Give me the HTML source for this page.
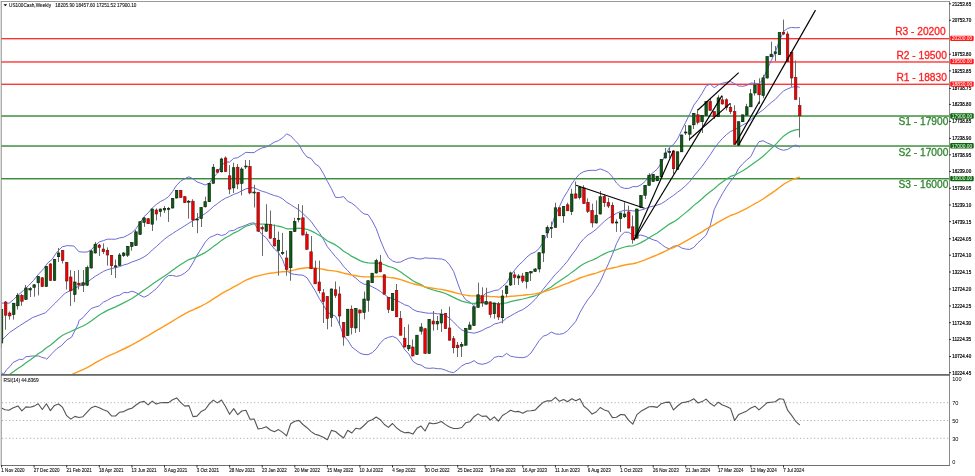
<!DOCTYPE html><html><head><meta charset="utf-8"><style>html,body{margin:0;padding:0;background:#fff;width:975px;height:476px;overflow:hidden;font-family:"Liberation Sans",sans-serif}</style></head><body><svg width="975" height="476" viewBox="0 0 975 476" style="display:block;will-change:transform">
<defs><clipPath id="main"><rect x="1.5" y="1.5" width="947.5" height="372.5"/></clipPath><clipPath id="sub"><rect x="1.5" y="375.5" width="947.5" height="89.5"/></clipPath></defs>
<rect x="0" y="0" width="975" height="476" fill="#fff"/>
<rect x="1" y="38" width="948" height="1.35" fill="#ff3030"/>
<rect x="1" y="61.3" width="948" height="1.35" fill="#ff3030"/>
<rect x="1" y="83.6" width="948" height="1.35" fill="#ff3030"/>
<rect x="1" y="115.3" width="948" height="1.45" fill="#3a8c3a"/>
<rect x="1" y="145.3" width="948" height="1.45" fill="#3a8c3a"/>
<rect x="1" y="178" width="948" height="1.45" fill="#3a8c3a"/>
<text x="945.6" y="34.7" text-anchor="end" font-family="Liberation Sans" font-size="10.2" fill="#ff1e1e" stroke="#ff1e1e" stroke-width="0.3">R3 - 20200</text>
<text x="946.8" y="59" text-anchor="end" font-family="Liberation Sans" font-size="10.2" fill="#ff1e1e" stroke="#ff1e1e" stroke-width="0.3">R2 - 19500</text>
<text x="946.8" y="80.8" text-anchor="end" font-family="Liberation Sans" font-size="10.2" fill="#ff1e1e" stroke="#ff1e1e" stroke-width="0.3">R1 - 18830</text>
<text x="948.3" y="125.3" text-anchor="end" font-family="Liberation Sans" font-size="10.2" fill="#338533" stroke="#338533" stroke-width="0.3">S1 - 17900</text>
<text x="948.3" y="155.8" text-anchor="end" font-family="Liberation Sans" font-size="10.2" fill="#338533" stroke="#338533" stroke-width="0.3">S2 - 17000</text>
<text x="948.3" y="187.8" text-anchor="end" font-family="Liberation Sans" font-size="10.2" fill="#338533" stroke="#338533" stroke-width="0.3">S3 - 16000</text>
<g clip-path="url(#main)">
<polyline fill="none" stroke="#6b6bd6" stroke-width="1" stroke-linejoin="round"  points="1.7,303.1 9.2,303.1 13.4,299.7 18.5,294.7 23.5,290.5 28.6,285.5 33.6,280.4 38.7,274 43.7,268.7 47.9,262.8 52.1,259.4 57.1,251.8 62.2,246.8 67.2,245.6 73.9,246 78.9,251.7 83,252.1 87.1,252 91.2,249.9 95.2,245.4 99.3,241.9 103.4,240.6 107.4,239.2 111.5,239.2 115.6,239.2 119.7,237.9 123.7,237.2 127.8,235.1 131.9,232.8 136,228.6 140,222.9 144.1,216.6 148.2,212.9 152.2,208 156.3,204.5 160.4,201.5 164.5,199.5 168.5,196.7 172.6,191.5 176.7,185.1 180.8,181.1 184.8,178.7 188.9,176.8 193,178.8 197,181.9 201.1,183.3 205.2,185 209.3,183.1 213.3,177.4 217.4,173.2 221.5,165.5 225.5,162 229.6,162.1 233.7,158.3 237.8,157.7 241.8,155.1 245.9,152.3 250,152.6 254.1,152.6 258.1,149.8 262.2,147.9 266.3,146.9 270.3,144.7 274.4,142.1 278.5,140.6 282.6,137.9 286.6,133.9 290.7,135.8 294.8,140.3 298.9,144.5 302.9,151.8 307,157 311.1,158.5 315.1,163.8 319.2,166.6 323.3,173.4 327.4,181.4 331.4,188.6 335.5,197.3 339.6,197.5 343.6,196.6 347.7,201.3 351.8,203.2 355.9,206.3 359.9,210.6 364,213.9 368.1,214.7 372.2,220.9 376.2,228.6 380.3,239.9 384.4,249.8 388.4,257.5 392.5,260.9 396.6,262.4 400.7,262 404.7,259.9 408.8,258.2 412.9,257.6 417,258.8 421,259 425.1,257.8 429.2,258.3 433.2,258.2 437.3,258.8 441.4,258.9 445.5,260.4 449.5,264.8 453.6,271.3 457.7,283.1 461.8,294.1 465.8,299.8 469.9,302.1 474,305.7 478,300.6 482.1,296.6 486.2,293 490.3,291.9 494.3,290.5 498.4,289.9 502.5,286.4 506.5,283 510.6,275.5 514.7,270.1 518.8,265 522.8,261.5 526.9,257 531,253.8 535.1,252.1 539.1,248.6 543.2,242.2 547.3,233.5 551.3,226.6 555.4,214.8 559.5,206.4 563.6,197.7 567.6,191.3 571.7,184 575.8,178.2 579.9,173.8 583.9,171.6 588,170.6 592.1,170.3 596.1,170.4 600.2,168.9 604.3,170.4 608.4,172.4 612.4,176.9 616.5,183 620.6,187 624.7,188.4 628.7,188.4 632.8,186.6 636.9,186.7 640.9,184.9 645,181.6 649.1,176.2 653.2,172.5 657.2,169.1 661.3,163.1 665.4,155 669.4,147.5 673.5,144.6 677.6,138.9 681.7,130.3 685.7,122.2 689.8,113.8 693.9,105 698,99.6 702,93.5 706.1,86.1 710.2,84 714.2,87.7 718.3,84.9 722.4,83.2 726.5,82.2 730.5,81.6 734.6,83.7 738.7,86 742.8,86.3 746.8,85.4 750.9,83 755,83.3 759,83.8 763.1,79.1 767.2,69.2 771.3,60.4 775.3,52.3 779.4,40.8 783.5,31.5 787.6,28.4 791.6,27.4 795.7,27.8 799.8,27.5"/>
<polyline fill="none" stroke="#6b6bd6" stroke-width="1" stroke-linejoin="round"  points="1.6,340.4 9.8,332.3 19.5,325.8 32.5,317.6 45.6,312.7 55.3,303 65.1,293.2 74.8,288.3 78.9,286.2 83,284.8 87.1,282.4 91.2,279.2 95.2,276.3 99.3,273.9 103.4,271.4 107.4,269.7 111.5,268.6 115.6,267.6 119.7,266.6 123.7,264.9 127.8,263.9 131.9,262 136,260.6 140,259 144.1,256.9 148.2,254.1 152.2,250 156.3,246.6 160.4,242.8 164.5,239.1 168.5,236.1 172.6,233.5 176.7,230.8 180.8,228.3 184.8,225.8 188.9,223.1 193,220.8 197,218.5 201.1,216.1 205.2,213.6 209.3,210.4 213.3,206.6 217.4,203.7 221.5,200.5 225.5,198.2 229.6,196.5 233.7,194.4 237.8,192.9 241.8,190.9 245.9,188.8 250,188 254.1,187.7 258.1,189.7 262.2,191.3 266.3,192.4 270.3,194.2 274.4,195.5 278.5,196.6 282.6,198.8 286.6,202.2 290.7,204.7 294.8,207.4 298.9,209.7 302.9,213.5 307,217.4 311.1,221.4 315.1,227.2 319.2,232.5 323.3,239.1 327.4,246.8 331.4,251.6 335.5,256.7 339.6,261 343.6,266.4 347.7,270.6 351.8,275.1 355.9,278.2 359.9,281.8 364,284.2 368.1,284.7 372.2,286.8 376.2,288.8 380.3,291.4 384.4,294.4 388.4,297.4 392.5,298.6 396.6,300.3 400.7,302.5 404.7,304.8 408.8,306.1 412.9,309.4 417,311.4 421,312 425.1,312.8 429.2,313.3 433.2,313.1 437.3,313.8 441.4,313.8 445.5,315.3 449.5,318.3 453.6,322 457.7,326.4 461.8,330 465.8,331.7 469.9,332.5 474,333.2 478,332.1 482.1,330.5 486.2,328.2 490.3,326.7 494.3,324 498.4,323.1 502.5,321.6 506.5,318.2 510.6,315.9 514.7,313.5 518.8,311.3 522.8,309.6 526.9,306.8 531,303.4 535.1,299.4 539.1,294.7 543.2,289.2 547.3,284.2 551.3,279.3 555.4,274.3 559.5,270.4 563.6,265.6 567.6,261 571.7,255 575.8,249.8 579.9,243.3 583.9,238.7 588,234.9 592.1,232.4 596.1,229.3 600.2,225.4 604.3,221.4 608.4,218.1 612.4,215.7 616.5,213.3 620.6,211.4 624.7,210.3 628.7,210.3 632.8,210.9 636.9,211 640.9,210 645,208.9 649.1,207.1 653.2,206.2 657.2,205.1 661.3,203.7 665.4,201.1 669.4,198.1 673.5,195.4 677.6,192.2 681.7,189.2 685.7,185.6 689.8,181.6 693.9,176.1 698,171.1 702,166.3 706.1,160.6 710.2,154.8 714.2,148.6 718.3,143.1 722.4,138.5 726.5,134.6 730.5,131.4 734.6,129.9 738.7,127.2 742.8,125 746.8,122.7 750.9,119.8 755,115.6 759,112.7 763.1,109.9 767.2,106.1 771.3,102.5 775.3,99.4 779.4,95 783.5,90.9 787.6,88.9 791.6,87.3 795.7,86.4 799.8,87.3"/>
<polyline fill="none" stroke="#6b6bd6" stroke-width="1" stroke-linejoin="round"  points="0,372 3.8,374 6.5,369.7 10,366.5 13,362.5 19.5,359.3 22.7,359.5 26,356.7 32.5,356 35.3,356 39,356 41.6,357.3 45.6,358.3 46.7,359.3 52.1,353.4 56.7,348.8 61.8,345.3 66.8,340 71.6,337.2 78.1,324.1 78.9,320.6 83,317.6 87.1,312.9 91.2,308.5 95.2,307.1 99.3,305.9 103.4,302.1 107.4,300.3 111.5,297.9 115.6,296.1 119.7,295.2 123.7,292.5 127.8,292.7 131.9,291.2 136,292.6 140,295.2 144.1,297.2 148.2,295.2 152.2,292 156.3,288.7 160.4,284 164.5,278.6 168.5,275.5 172.6,275.5 176.7,276.4 180.8,275.4 184.8,273 188.9,269.5 193,262.8 197,255.1 201.1,248.9 205.2,242.2 209.3,237.7 213.3,235.9 217.4,234.1 221.5,235.5 225.5,234.4 229.6,230.9 233.7,230.5 237.8,228.1 241.8,226.7 245.9,225.2 250,223.4 254.1,222.8 258.1,229.6 262.2,234.7 266.3,237.9 270.3,243.8 274.4,249 278.5,252.6 282.6,259.8 286.6,270.6 290.7,273.5 294.8,274.4 298.9,274.9 302.9,275.2 307,277.8 311.1,284.2 315.1,290.6 319.2,298.4 323.3,304.8 327.4,312.1 331.4,314.5 335.5,316.1 339.6,324.4 343.6,336.1 347.7,339.9 351.8,346.9 355.9,350.1 359.9,353.1 364,354.5 368.1,354.7 372.2,352.7 376.2,348.9 380.3,343 384.4,339 388.4,337.3 392.5,336.3 396.6,338.1 400.7,343 404.7,349.7 408.8,354 412.9,361.3 417,364.1 421,365 425.1,367.8 429.2,368.4 433.2,368 437.3,368.7 441.4,368.8 445.5,370.2 449.5,371.8 453.6,372.7 457.7,369.6 461.8,365.9 465.8,363.7 469.9,363 474,360.6 478,363.5 482.1,364.3 486.2,363.4 490.3,361.4 494.3,357.5 498.4,356.3 502.5,356.7 506.5,353.4 510.6,356.2 514.7,357 518.8,357.5 522.8,357.7 526.9,356.6 531,353 535.1,346.8 539.1,340.7 543.2,336.2 547.3,334.8 551.3,332 555.4,333.9 559.5,334.3 563.6,333.4 567.6,330.7 571.7,326 575.8,321.3 579.9,312.7 583.9,305.7 588,299.3 592.1,294.5 596.1,288.3 600.2,281.8 604.3,272.5 608.4,263.9 612.4,254.5 616.5,243.7 620.6,235.8 624.7,232.2 628.7,232.3 632.8,235.2 636.9,235.3 640.9,235 645,236.2 649.1,238.1 653.2,239.8 657.2,241 661.3,244.2 665.4,247.3 669.4,248.8 673.5,246.3 677.6,245.6 681.7,248 685.7,249.1 689.8,249.4 693.9,247.3 698,242.7 702,239.1 706.1,235.2 710.2,225.6 714.2,209.6 718.3,201.2 722.4,193.8 726.5,187 730.5,181.3 734.6,176.2 738.7,168.3 742.8,163.7 746.8,159.9 750.9,156.5 755,147.9 759,141.7 763.1,140.7 767.2,143 771.3,144.6 775.3,146.6 779.4,149.1 783.5,150.3 787.6,149.4 791.6,147.1 795.7,145 799.8,147.1"/>
<polyline fill="none" stroke="#3cb363" stroke-width="1.2" stroke-linejoin="round"  points="1.6,379.2 5.6,376.6 9.7,374.3 13.8,371.5 17.8,368.5 21.9,365.9 26,362.8 30.1,359.9 34.1,356.9 38.2,353.8 42.3,351.2 46.4,347.8 50.4,345.2 54.5,341.8 58.6,338.3 62.6,335.3 66.7,333.2 70.8,331.5 74.9,329.6 78.9,327.8 83,326 87.1,323.8 91.2,320.9 95.2,317.9 99.3,315.1 103.4,312.6 107.4,310.4 111.5,308.6 115.6,306.9 119.7,304.9 123.7,302.9 127.8,300.7 131.9,298.4 136,295.8 140,292.9 144.1,289.9 148.2,287.3 152.2,284.3 156.3,281.5 160.4,278.7 164.5,275.9 168.5,273.3 172.6,270.3 176.7,267.2 180.8,264.5 184.8,262 188.9,259.6 193,258.1 197,256.6 201.1,254.6 205.2,252.6 209.3,249.8 213.3,246.6 217.4,243.7 221.5,240.4 225.5,237.7 229.6,235.8 233.7,233.1 237.8,231.2 241.8,228.7 245.9,226.3 250,225 254.1,223.7 258.1,224 262.2,224.2 266.3,224.2 270.3,224.7 274.4,225.5 278.5,226.1 282.6,227.2 286.6,228.8 290.7,228.9 294.8,228.6 298.9,228.2 302.9,228.5 307,229.3 311.1,230.9 315.1,232.9 319.2,235.2 323.3,237.8 327.4,241 331.4,242.9 335.5,244.9 339.6,247.7 343.6,251.2 347.7,253.5 351.8,256.4 355.9,258.4 359.9,260.6 364,262.1 368.1,262.8 372.2,263.2 376.2,263.1 380.3,263.4 384.4,264.7 388.4,266.4 392.5,267.5 396.6,269.4 400.7,272 404.7,274.9 408.8,277.7 412.9,280.7 417,282.9 421,284.6 425.1,287.3 429.2,288.6 433.2,290 437.3,291.2 441.4,292.1 445.5,293.5 449.5,295.4 453.6,297.4 457.7,299.4 461.8,301.1 465.8,302.2 469.9,303.1 474,303.3 478,302.9 482.1,302.9 486.2,302.9 490.3,303.3 494.3,303.3 498.4,303.9 502.5,303.5 506.5,302.9 510.6,301.7 514.7,300.7 518.8,299.8 522.8,299 526.9,298 531,296.9 535.1,295.8 539.1,294.2 543.2,291.8 547.3,289.3 551.3,286.9 555.4,283.8 559.5,281.1 563.6,278.2 567.6,275.6 571.7,272.4 575.8,269.5 579.9,266.2 583.9,263.8 588,261.7 592.1,260.2 596.1,258.4 600.2,256 604.3,253.9 608.4,252 612.4,250.9 616.5,249.8 620.6,248.3 624.7,247 628.7,246.2 632.8,246 636.9,244.5 640.9,242.6 645,240.4 649.1,237.8 653.2,235.3 657.2,233 661.3,230.1 665.4,227.1 669.4,224.1 673.5,221.9 677.6,219.2 681.7,215.9 685.7,212.6 689.8,209.2 693.9,205.4 698,202.2 702,198.8 706.1,195 710.2,191.7 714.2,188.7 718.3,185.1 722.4,182 726.5,179 730.5,176.4 734.6,175.1 738.7,173 742.8,170.8 746.8,168.3 750.9,165.3 755,162.2 759,159.5 763.1,156.3 767.2,152.4 771.3,148.6 775.3,144.8 779.4,140.4 783.5,136.2 787.6,133.3 791.6,131.1 795.7,129.9 799.8,129.3"/>
<polyline fill="none" stroke="#ff9a1a" stroke-width="1.4" stroke-linejoin="round"  points="1.6,411.9 5.6,410 9.7,408.2 13.8,406.1 17.8,403.9 21.9,401.8 26,399.6 30.1,397.4 34.1,395.2 38.2,392.8 42.3,390.7 46.4,388.2 50.4,386.1 54.5,383.6 58.6,381 62.6,378.6 66.7,376.7 70.8,375 74.9,373.2 78.9,371.4 83,369.7 87.1,367.6 91.2,365.3 95.2,362.9 99.3,360.6 103.4,358.5 107.4,356.4 111.5,354.6 115.6,352.9 119.7,350.9 123.7,349 127.8,347 131.9,344.9 136,342.7 140,340.3 144.1,337.8 148.2,335.6 152.2,333.1 156.3,330.7 160.4,328.3 164.5,325.9 168.5,323.6 172.6,321.1 176.7,318.5 180.8,316.1 184.8,313.9 188.9,311.7 193,309.8 197,308 201.1,306.1 205.2,304 209.3,301.6 213.3,298.9 217.4,296.4 221.5,293.7 225.5,291.3 229.6,289.3 233.7,286.9 237.8,284.8 241.8,282.5 245.9,280.2 250,278.5 254.1,276.8 258.1,275.9 262.2,274.9 266.3,273.9 270.3,273.2 274.4,272.7 278.5,272.1 282.6,271.7 286.6,271.6 290.7,270.8 294.8,269.9 298.9,268.8 302.9,268.2 307,267.8 311.1,267.8 315.1,268.1 319.2,268.6 323.3,269.2 327.4,270.2 331.4,270.6 335.5,271.1 339.6,272 343.6,273.2 347.7,274 351.8,275 355.9,275.7 359.9,276.4 364,276.9 368.1,276.9 372.2,276.9 376.2,276.5 380.3,276.5 384.4,276.8 388.4,277.4 392.5,277.8 396.6,278.5 400.7,279.7 404.7,281 408.8,282.3 412.9,283.7 417,284.7 421,285.6 425.1,286.9 429.2,287.6 433.2,288.3 437.3,288.9 441.4,289.4 445.5,290.2 449.5,291.2 453.6,292.3 457.7,293.4 461.8,294.4 465.8,295.1 469.9,295.7 474,295.9 478,295.9 482.1,296 486.2,296.1 490.3,296.5 494.3,296.6 498.4,297 502.5,297 506.5,296.8 510.6,296.3 514.7,296 518.8,295.6 522.8,295.3 526.9,294.8 531,294.4 535.1,293.9 539.1,293 543.2,291.9 547.3,290.6 551.3,289.4 555.4,287.8 559.5,286.3 563.6,284.7 567.6,283.3 571.7,281.5 575.8,279.9 579.9,278 583.9,276.6 588,275.3 592.1,274.2 596.1,273.1 600.2,271.6 604.3,270.2 608.4,268.9 612.4,268 616.5,267.1 620.6,266 624.7,265 628.7,264.3 632.8,263.8 636.9,262.7 640.9,261.4 645,259.9 649.1,258.2 653.2,256.5 657.2,254.9 661.3,253 665.4,251.1 669.4,249.1 673.5,247.5 677.6,245.6 681.7,243.4 685.7,241.2 689.8,238.9 693.9,236.4 698,234.2 702,231.8 706.1,229.2 710.2,226.9 714.2,224.7 718.3,222.2 722.4,219.9 726.5,217.6 730.5,215.5 734.6,214.1 738.7,212.3 742.8,210.4 746.8,208.3 750.9,206 755,203.6 759,201.5 763.1,199 767.2,196.2 771.3,193.4 775.3,190.6 779.4,187.5 783.5,184.4 787.6,182 791.6,179.9 795.7,178.3 799.8,177.1"/>
<rect x="1" y="309.5" width="1" height="38.5" fill="#6a6a6a"/>
<rect x="0.3" y="309.5" width="2.5" height="33.5" fill="#0f5a14" stroke="#061f06" stroke-width="0.6"/>
<rect x="5" y="301" width="1" height="28.7" fill="#6a6a6a"/>
<rect x="4.4" y="302" width="2.5" height="13.2" fill="#f00000" stroke="#701010" stroke-width="0.6"/>
<rect x="9" y="311.4" width="1" height="8.2" fill="#6a6a6a"/>
<rect x="8.5" y="313" width="2.5" height="2.9" fill="#f00000" stroke="#701010" stroke-width="0.6"/>
<rect x="13" y="303.2" width="1" height="16.4" fill="#6a6a6a"/>
<rect x="12.5" y="303.2" width="2.5" height="11.4" fill="#0f5a14" stroke="#061f06" stroke-width="0.6"/>
<rect x="17" y="293" width="1" height="16.5" fill="#6a6a6a"/>
<rect x="16.6" y="295.3" width="2.5" height="10.5" fill="#0f5a14" stroke="#061f06" stroke-width="0.6"/>
<rect x="21" y="294" width="1" height="11.8" fill="#6a6a6a"/>
<rect x="20.7" y="295.3" width="2.5" height="6" fill="#f00000" stroke="#701010" stroke-width="0.6"/>
<rect x="25" y="285" width="1" height="14.6" fill="#6a6a6a"/>
<rect x="24.7" y="288" width="2.5" height="11.6" fill="#0f5a14" stroke="#061f06" stroke-width="0.6"/>
<rect x="30" y="287" width="1" height="10" fill="#6a6a6a"/>
<rect x="28.8" y="288.5" width="2.5" height="1.5" fill="#0f5a14" stroke="#061f06" stroke-width="0.6"/>
<rect x="34" y="284" width="1" height="12.7" fill="#6a6a6a"/>
<rect x="32.9" y="284.8" width="2.5" height="2.6" fill="#0f5a14" stroke="#061f06" stroke-width="0.6"/>
<rect x="38" y="276" width="1" height="19.4" fill="#6a6a6a"/>
<rect x="37" y="276.5" width="2.5" height="6.3" fill="#0f5a14" stroke="#061f06" stroke-width="0.6"/>
<rect x="42" y="277" width="1" height="10" fill="#6a6a6a"/>
<rect x="41" y="277.8" width="2.5" height="8.8" fill="#f00000" stroke="#701010" stroke-width="0.6"/>
<rect x="46" y="266" width="1" height="21" fill="#6a6a6a"/>
<rect x="45.1" y="266.4" width="2.5" height="20.2" fill="#0f5a14" stroke="#061f06" stroke-width="0.6"/>
<rect x="50" y="263" width="1" height="18" fill="#6a6a6a"/>
<rect x="49.2" y="264" width="2.5" height="16.3" fill="#f00000" stroke="#701010" stroke-width="0.6"/>
<rect x="54" y="259" width="1" height="22" fill="#6a6a6a"/>
<rect x="53.3" y="259.6" width="2.5" height="20.7" fill="#0f5a14" stroke="#061f06" stroke-width="0.6"/>
<rect x="58" y="248" width="1" height="14" fill="#6a6a6a"/>
<rect x="57.3" y="253" width="2.5" height="3.7" fill="#0f5a14" stroke="#061f06" stroke-width="0.6"/>
<rect x="62" y="250" width="1" height="13.5" fill="#6a6a6a"/>
<rect x="61.4" y="250.5" width="2.5" height="10" fill="#f00000" stroke="#701010" stroke-width="0.6"/>
<rect x="66" y="262" width="1" height="27.5" fill="#6a6a6a"/>
<rect x="65.5" y="262.5" width="2.5" height="18.5" fill="#f00000" stroke="#701010" stroke-width="0.6"/>
<rect x="70" y="270" width="1" height="36" fill="#6a6a6a"/>
<rect x="69.5" y="277" width="2.5" height="13.8" fill="#f00000" stroke="#701010" stroke-width="0.6"/>
<rect x="74" y="271" width="1" height="31" fill="#6a6a6a"/>
<rect x="73.6" y="282" width="2.5" height="12.5" fill="#0f5a14" stroke="#061f06" stroke-width="0.6"/>
<rect x="78" y="270" width="1" height="19.5" fill="#6a6a6a"/>
<rect x="77.7" y="283.2" width="2.5" height="1.8" fill="#f00000" stroke="#701010" stroke-width="0.6"/>
<rect x="83" y="270" width="1" height="22" fill="#6a6a6a"/>
<rect x="81.8" y="282.7" width="2.5" height="2.5" fill="#0f5a14" stroke="#061f06" stroke-width="0.6"/>
<rect x="87" y="265.6" width="1" height="20.4" fill="#6a6a6a"/>
<rect x="85.8" y="267.6" width="2.5" height="17.6" fill="#0f5a14" stroke="#061f06" stroke-width="0.6"/>
<rect x="91" y="250" width="1" height="18.5" fill="#6a6a6a"/>
<rect x="89.9" y="251" width="2.5" height="17" fill="#0f5a14" stroke="#061f06" stroke-width="0.6"/>
<rect x="95" y="242" width="1" height="11.5" fill="#6a6a6a"/>
<rect x="94" y="244.2" width="2.5" height="8.8" fill="#0f5a14" stroke="#061f06" stroke-width="0.6"/>
<rect x="99" y="244" width="1" height="12" fill="#6a6a6a"/>
<rect x="98" y="245" width="2.5" height="2.4" fill="#f00000" stroke="#701010" stroke-width="0.6"/>
<rect x="103" y="243.4" width="1" height="10.6" fill="#6a6a6a"/>
<rect x="102.1" y="249" width="2.5" height="2.7" fill="#f00000" stroke="#701010" stroke-width="0.6"/>
<rect x="107" y="247.4" width="1" height="18.2" fill="#6a6a6a"/>
<rect x="106.2" y="250.5" width="2.5" height="4.5" fill="#f00000" stroke="#701010" stroke-width="0.6"/>
<rect x="111" y="255" width="1" height="20" fill="#6a6a6a"/>
<rect x="110.3" y="255.3" width="2.5" height="10.4" fill="#f00000" stroke="#701010" stroke-width="0.6"/>
<rect x="115" y="259.5" width="1" height="18.5" fill="#6a6a6a"/>
<rect x="114.3" y="265.8" width="2.5" height="1.2" fill="#0f5a14" stroke="#061f06" stroke-width="0.6"/>
<rect x="119" y="253" width="1" height="13" fill="#6a6a6a"/>
<rect x="118.4" y="255" width="2.5" height="10.3" fill="#0f5a14" stroke="#061f06" stroke-width="0.6"/>
<rect x="123" y="252" width="1" height="5" fill="#6a6a6a"/>
<rect x="122.5" y="253" width="2.5" height="2.7" fill="#0f5a14" stroke="#061f06" stroke-width="0.6"/>
<rect x="127" y="246" width="1" height="11" fill="#6a6a6a"/>
<rect x="126.6" y="246.4" width="2.5" height="8.8" fill="#0f5a14" stroke="#061f06" stroke-width="0.6"/>
<rect x="131" y="242" width="1" height="8.7" fill="#6a6a6a"/>
<rect x="130.6" y="242.6" width="2.5" height="3.8" fill="#0f5a14" stroke="#061f06" stroke-width="0.6"/>
<rect x="135" y="230" width="1" height="16" fill="#6a6a6a"/>
<rect x="134.7" y="231.8" width="2.5" height="13.8" fill="#0f5a14" stroke="#061f06" stroke-width="0.6"/>
<rect x="140" y="221" width="1" height="14" fill="#6a6a6a"/>
<rect x="138.8" y="221.7" width="2.5" height="12.6" fill="#0f5a14" stroke="#061f06" stroke-width="0.6"/>
<rect x="144" y="217" width="1" height="9.8" fill="#6a6a6a"/>
<rect x="142.8" y="218" width="2.5" height="4.5" fill="#0f5a14" stroke="#061f06" stroke-width="0.6"/>
<rect x="148" y="218" width="1" height="6" fill="#6a6a6a"/>
<rect x="146.9" y="218.7" width="2.5" height="5" fill="#f00000" stroke="#701010" stroke-width="0.6"/>
<rect x="152" y="208.5" width="1" height="22.5" fill="#6a6a6a"/>
<rect x="151" y="209" width="2.5" height="15.2" fill="#0f5a14" stroke="#061f06" stroke-width="0.6"/>
<rect x="156" y="208.4" width="1" height="12.1" fill="#6a6a6a"/>
<rect x="155.1" y="210" width="2.5" height="4" fill="#f00000" stroke="#701010" stroke-width="0.6"/>
<rect x="160" y="208.5" width="1" height="8.2" fill="#6a6a6a"/>
<rect x="159.1" y="209" width="2.5" height="2.6" fill="#0f5a14" stroke="#061f06" stroke-width="0.6"/>
<rect x="164" y="206" width="1" height="7" fill="#6a6a6a"/>
<rect x="163.2" y="208.4" width="2.5" height="1.6" fill="#0f5a14" stroke="#061f06" stroke-width="0.6"/>
<rect x="168" y="207" width="1" height="14.9" fill="#6a6a6a"/>
<rect x="167.3" y="208.5" width="2.5" height="1" fill="#0f5a14" stroke="#061f06" stroke-width="0.6"/>
<rect x="172" y="198" width="1" height="10.5" fill="#6a6a6a"/>
<rect x="171.4" y="198.4" width="2.5" height="9.6" fill="#0f5a14" stroke="#061f06" stroke-width="0.6"/>
<rect x="176" y="190" width="1" height="8.5" fill="#6a6a6a"/>
<rect x="175.4" y="190.4" width="2.5" height="7.6" fill="#0f5a14" stroke="#061f06" stroke-width="0.6"/>
<rect x="180" y="190" width="1" height="8" fill="#6a6a6a"/>
<rect x="179.5" y="190.4" width="2.5" height="7" fill="#f00000" stroke="#701010" stroke-width="0.6"/>
<rect x="184" y="196" width="1" height="7" fill="#6a6a6a"/>
<rect x="183.6" y="196.7" width="2.5" height="5.8" fill="#f00000" stroke="#701010" stroke-width="0.6"/>
<rect x="188" y="200" width="1" height="18.6" fill="#6a6a6a"/>
<rect x="187.6" y="201.2" width="2.5" height="1" fill="#0f5a14" stroke="#061f06" stroke-width="0.6"/>
<rect x="192" y="199.2" width="1" height="27.8" fill="#6a6a6a"/>
<rect x="191.7" y="201.2" width="2.5" height="18.8" fill="#f00000" stroke="#701010" stroke-width="0.6"/>
<rect x="197" y="213" width="1" height="20.2" fill="#6a6a6a"/>
<rect x="195.8" y="219" width="2.5" height="1" fill="#0f5a14" stroke="#061f06" stroke-width="0.6"/>
<rect x="201" y="207" width="1" height="20" fill="#6a6a6a"/>
<rect x="199.9" y="207.5" width="2.5" height="11.1" fill="#0f5a14" stroke="#061f06" stroke-width="0.6"/>
<rect x="205" y="196.7" width="1" height="10.8" fill="#6a6a6a"/>
<rect x="203.9" y="201.7" width="2.5" height="5.1" fill="#0f5a14" stroke="#061f06" stroke-width="0.6"/>
<rect x="209" y="183" width="1" height="19" fill="#6a6a6a"/>
<rect x="208" y="183.3" width="2.5" height="18.4" fill="#0f5a14" stroke="#061f06" stroke-width="0.6"/>
<rect x="213" y="164" width="1" height="19.5" fill="#6a6a6a"/>
<rect x="212.1" y="167.2" width="2.5" height="16.1" fill="#0f5a14" stroke="#061f06" stroke-width="0.6"/>
<rect x="217" y="169" width="1" height="4" fill="#6a6a6a"/>
<rect x="216.2" y="169.7" width="2.5" height="2.5" fill="#f00000" stroke="#701010" stroke-width="0.6"/>
<rect x="221" y="157.6" width="1" height="14.9" fill="#6a6a6a"/>
<rect x="220.2" y="159" width="2.5" height="12.8" fill="#0f5a14" stroke="#061f06" stroke-width="0.6"/>
<rect x="225" y="156.4" width="1" height="15.6" fill="#6a6a6a"/>
<rect x="224.3" y="158" width="2.5" height="13.5" fill="#f00000" stroke="#701010" stroke-width="0.6"/>
<rect x="229" y="165" width="1" height="29.2" fill="#6a6a6a"/>
<rect x="228.4" y="175.8" width="2.5" height="13.3" fill="#f00000" stroke="#701010" stroke-width="0.6"/>
<rect x="233" y="162.7" width="1" height="30.3" fill="#6a6a6a"/>
<rect x="232.4" y="167.7" width="2.5" height="20.2" fill="#0f5a14" stroke="#061f06" stroke-width="0.6"/>
<rect x="237" y="164" width="1" height="25" fill="#6a6a6a"/>
<rect x="236.5" y="167.2" width="2.5" height="16.8" fill="#f00000" stroke="#701010" stroke-width="0.6"/>
<rect x="241" y="167.2" width="1" height="28.2" fill="#6a6a6a"/>
<rect x="240.6" y="169" width="2.5" height="14.3" fill="#0f5a14" stroke="#061f06" stroke-width="0.6"/>
<rect x="245" y="160" width="1" height="9" fill="#6a6a6a"/>
<rect x="244.7" y="166" width="2.5" height="1" fill="#0f5a14" stroke="#061f06" stroke-width="0.6"/>
<rect x="249" y="160" width="1" height="34.2" fill="#6a6a6a"/>
<rect x="248.7" y="166.4" width="2.5" height="26.5" fill="#f00000" stroke="#701010" stroke-width="0.6"/>
<rect x="254" y="184.8" width="1" height="22.7" fill="#6a6a6a"/>
<rect x="252.8" y="192" width="2.5" height="1" fill="#0f5a14" stroke="#061f06" stroke-width="0.6"/>
<rect x="258" y="192" width="1" height="40" fill="#6a6a6a"/>
<rect x="256.9" y="192.4" width="2.5" height="38.8" fill="#f00000" stroke="#701010" stroke-width="0.6"/>
<rect x="262" y="225.6" width="1" height="30.3" fill="#6a6a6a"/>
<rect x="260.9" y="227.5" width="2.5" height="1.5" fill="#f00000" stroke="#701010" stroke-width="0.6"/>
<rect x="266" y="204.2" width="1" height="27.8" fill="#6a6a6a"/>
<rect x="265" y="224.4" width="2.5" height="6.8" fill="#0f5a14" stroke="#061f06" stroke-width="0.6"/>
<rect x="270" y="210.5" width="1" height="28.5" fill="#6a6a6a"/>
<rect x="269.1" y="224.4" width="2.5" height="13.8" fill="#f00000" stroke="#701010" stroke-width="0.6"/>
<rect x="274" y="224.4" width="1" height="22.1" fill="#6a6a6a"/>
<rect x="273.2" y="238.5" width="2.5" height="7.4" fill="#f00000" stroke="#701010" stroke-width="0.6"/>
<rect x="278" y="231.6" width="1" height="44.1" fill="#6a6a6a"/>
<rect x="277.2" y="240.2" width="2.5" height="10.3" fill="#0f5a14" stroke="#061f06" stroke-width="0.6"/>
<rect x="282" y="232.9" width="1" height="22.1" fill="#6a6a6a"/>
<rect x="281.3" y="252.5" width="2.5" height="1" fill="#0f5a14" stroke="#061f06" stroke-width="0.6"/>
<rect x="286" y="250.5" width="1" height="25.2" fill="#6a6a6a"/>
<rect x="285.4" y="258" width="2.5" height="11.4" fill="#f00000" stroke="#701010" stroke-width="0.6"/>
<rect x="290" y="231" width="1" height="49.8" fill="#6a6a6a"/>
<rect x="289.5" y="231.6" width="2.5" height="36.1" fill="#0f5a14" stroke="#061f06" stroke-width="0.6"/>
<rect x="294" y="217.8" width="1" height="14.2" fill="#6a6a6a"/>
<rect x="293.5" y="221.6" width="2.5" height="10" fill="#0f5a14" stroke="#061f06" stroke-width="0.6"/>
<rect x="298" y="204" width="1" height="18.3" fill="#6a6a6a"/>
<rect x="297.6" y="218.5" width="2.5" height="1" fill="#0f5a14" stroke="#061f06" stroke-width="0.6"/>
<rect x="302" y="205.2" width="1" height="30.3" fill="#6a6a6a"/>
<rect x="301.7" y="217.8" width="2.5" height="17.2" fill="#f00000" stroke="#701010" stroke-width="0.6"/>
<rect x="306" y="231.6" width="1" height="18.4" fill="#6a6a6a"/>
<rect x="305.7" y="234.2" width="2.5" height="15.1" fill="#f00000" stroke="#701010" stroke-width="0.6"/>
<rect x="311" y="236" width="1" height="33" fill="#6a6a6a"/>
<rect x="309.8" y="251.8" width="2.5" height="16.9" fill="#f00000" stroke="#701010" stroke-width="0.6"/>
<rect x="315" y="260.6" width="1" height="23.4" fill="#6a6a6a"/>
<rect x="313.9" y="268.2" width="2.5" height="15.6" fill="#f00000" stroke="#701010" stroke-width="0.6"/>
<rect x="319" y="260.6" width="1" height="32.8" fill="#6a6a6a"/>
<rect x="318" y="282" width="2.5" height="8.8" fill="#f00000" stroke="#701010" stroke-width="0.6"/>
<rect x="323" y="289" width="1" height="34" fill="#6a6a6a"/>
<rect x="322" y="292.8" width="2.5" height="8.8" fill="#f00000" stroke="#701010" stroke-width="0.6"/>
<rect x="327" y="296" width="1" height="33.3" fill="#6a6a6a"/>
<rect x="326.1" y="296.6" width="2.5" height="21.9" fill="#f00000" stroke="#701010" stroke-width="0.6"/>
<rect x="331" y="288.5" width="1" height="38.3" fill="#6a6a6a"/>
<rect x="330.2" y="289" width="2.5" height="28.5" fill="#0f5a14" stroke="#061f06" stroke-width="0.6"/>
<rect x="335" y="281.5" width="1" height="16.4" fill="#6a6a6a"/>
<rect x="334.3" y="289.8" width="2.5" height="5.5" fill="#f00000" stroke="#701010" stroke-width="0.6"/>
<rect x="339" y="286.5" width="1" height="39.1" fill="#6a6a6a"/>
<rect x="338.3" y="294" width="2.5" height="22" fill="#f00000" stroke="#701010" stroke-width="0.6"/>
<rect x="343" y="322" width="1" height="23.7" fill="#6a6a6a"/>
<rect x="342.4" y="322.5" width="2.5" height="14.5" fill="#f00000" stroke="#701010" stroke-width="0.6"/>
<rect x="347" y="309" width="1" height="27" fill="#6a6a6a"/>
<rect x="346.5" y="309.2" width="2.5" height="26.4" fill="#0f5a14" stroke="#061f06" stroke-width="0.6"/>
<rect x="351" y="305.4" width="1" height="29" fill="#6a6a6a"/>
<rect x="350.5" y="309.2" width="2.5" height="18.4" fill="#f00000" stroke="#701010" stroke-width="0.6"/>
<rect x="355" y="308" width="1" height="25" fill="#6a6a6a"/>
<rect x="354.6" y="308.4" width="2.5" height="19.6" fill="#0f5a14" stroke="#061f06" stroke-width="0.6"/>
<rect x="359" y="309.5" width="1" height="22.4" fill="#6a6a6a"/>
<rect x="358.7" y="310" width="2.5" height="3" fill="#f00000" stroke="#701010" stroke-width="0.6"/>
<rect x="364" y="291.6" width="1" height="27.7" fill="#6a6a6a"/>
<rect x="362.8" y="299" width="2.5" height="13.5" fill="#0f5a14" stroke="#061f06" stroke-width="0.6"/>
<rect x="368" y="280.5" width="1" height="31.2" fill="#6a6a6a"/>
<rect x="366.8" y="280.7" width="2.5" height="19.7" fill="#0f5a14" stroke="#061f06" stroke-width="0.6"/>
<rect x="372" y="273" width="1" height="10" fill="#6a6a6a"/>
<rect x="370.9" y="273.2" width="2.5" height="9.5" fill="#0f5a14" stroke="#061f06" stroke-width="0.6"/>
<rect x="376" y="258.8" width="1" height="14.7" fill="#6a6a6a"/>
<rect x="375" y="260.6" width="2.5" height="12.4" fill="#0f5a14" stroke="#061f06" stroke-width="0.6"/>
<rect x="380" y="255" width="1" height="17.2" fill="#6a6a6a"/>
<rect x="379.1" y="262" width="2.5" height="9.8" fill="#f00000" stroke="#701010" stroke-width="0.6"/>
<rect x="384" y="274.5" width="1" height="20" fill="#6a6a6a"/>
<rect x="383.1" y="274.8" width="2.5" height="19.4" fill="#f00000" stroke="#701010" stroke-width="0.6"/>
<rect x="388" y="297" width="1" height="16" fill="#6a6a6a"/>
<rect x="387.2" y="297.4" width="2.5" height="11.9" fill="#f00000" stroke="#701010" stroke-width="0.6"/>
<rect x="392" y="293" width="1" height="18" fill="#6a6a6a"/>
<rect x="391.3" y="293.4" width="2.5" height="17.1" fill="#0f5a14" stroke="#061f06" stroke-width="0.6"/>
<rect x="396" y="284" width="1" height="33" fill="#6a6a6a"/>
<rect x="395.3" y="290.4" width="2.5" height="26.4" fill="#f00000" stroke="#701010" stroke-width="0.6"/>
<rect x="400" y="311" width="1" height="24.5" fill="#6a6a6a"/>
<rect x="399.4" y="318.6" width="2.5" height="16.6" fill="#f00000" stroke="#701010" stroke-width="0.6"/>
<rect x="404" y="327" width="1" height="20.5" fill="#6a6a6a"/>
<rect x="403.5" y="338.2" width="2.5" height="8.8" fill="#f00000" stroke="#701010" stroke-width="0.6"/>
<rect x="408" y="324.4" width="1" height="26.6" fill="#6a6a6a"/>
<rect x="407.6" y="345.3" width="2.5" height="3.5" fill="#0f5a14" stroke="#061f06" stroke-width="0.6"/>
<rect x="412" y="339.5" width="1" height="17" fill="#6a6a6a"/>
<rect x="411.6" y="347" width="2.5" height="8.9" fill="#f00000" stroke="#701010" stroke-width="0.6"/>
<rect x="416" y="335" width="1" height="20" fill="#6a6a6a"/>
<rect x="415.7" y="335.2" width="2.5" height="19.4" fill="#0f5a14" stroke="#061f06" stroke-width="0.6"/>
<rect x="421" y="323" width="1" height="11.5" fill="#6a6a6a"/>
<rect x="419.8" y="327" width="2.5" height="4.2" fill="#0f5a14" stroke="#061f06" stroke-width="0.6"/>
<rect x="425" y="328" width="1" height="26" fill="#6a6a6a"/>
<rect x="423.8" y="328.7" width="2.5" height="24.7" fill="#f00000" stroke="#701010" stroke-width="0.6"/>
<rect x="429" y="319" width="1" height="35" fill="#6a6a6a"/>
<rect x="427.9" y="319.3" width="2.5" height="34.1" fill="#0f5a14" stroke="#061f06" stroke-width="0.6"/>
<rect x="433" y="311" width="1" height="19.6" fill="#6a6a6a"/>
<rect x="432" y="321" width="2.5" height="3" fill="#f00000" stroke="#701010" stroke-width="0.6"/>
<rect x="437" y="316" width="1" height="14" fill="#6a6a6a"/>
<rect x="436.1" y="321.3" width="2.5" height="2.7" fill="#0f5a14" stroke="#061f06" stroke-width="0.6"/>
<rect x="441" y="309.2" width="1" height="22.7" fill="#6a6a6a"/>
<rect x="440.1" y="314.2" width="2.5" height="8.8" fill="#0f5a14" stroke="#061f06" stroke-width="0.6"/>
<rect x="445" y="313" width="1" height="16" fill="#6a6a6a"/>
<rect x="444.2" y="313.5" width="2.5" height="15.1" fill="#f00000" stroke="#701010" stroke-width="0.6"/>
<rect x="449" y="306.7" width="1" height="33.8" fill="#6a6a6a"/>
<rect x="448.3" y="328" width="2.5" height="12.2" fill="#f00000" stroke="#701010" stroke-width="0.6"/>
<rect x="453" y="336" width="1" height="17.3" fill="#6a6a6a"/>
<rect x="452.4" y="338.7" width="2.5" height="9" fill="#f00000" stroke="#701010" stroke-width="0.6"/>
<rect x="457" y="342" width="1" height="15" fill="#6a6a6a"/>
<rect x="456.4" y="345.2" width="2.5" height="2.5" fill="#f00000" stroke="#701010" stroke-width="0.6"/>
<rect x="461" y="342" width="1" height="15" fill="#6a6a6a"/>
<rect x="460.5" y="344.5" width="2.5" height="1.7" fill="#0f5a14" stroke="#061f06" stroke-width="0.6"/>
<rect x="465" y="328" width="1" height="17.5" fill="#6a6a6a"/>
<rect x="464.6" y="328.6" width="2.5" height="16.6" fill="#0f5a14" stroke="#061f06" stroke-width="0.6"/>
<rect x="469" y="321.8" width="1" height="7.7" fill="#6a6a6a"/>
<rect x="468.6" y="325" width="2.5" height="4.3" fill="#0f5a14" stroke="#061f06" stroke-width="0.6"/>
<rect x="473" y="306.5" width="1" height="19.5" fill="#6a6a6a"/>
<rect x="472.7" y="306.7" width="2.5" height="18.9" fill="#0f5a14" stroke="#061f06" stroke-width="0.6"/>
<rect x="478" y="282.7" width="1" height="24.8" fill="#6a6a6a"/>
<rect x="476.8" y="294.8" width="2.5" height="12.6" fill="#0f5a14" stroke="#061f06" stroke-width="0.6"/>
<rect x="482" y="287.3" width="1" height="19.4" fill="#6a6a6a"/>
<rect x="480.9" y="295.8" width="2.5" height="7.1" fill="#f00000" stroke="#701010" stroke-width="0.6"/>
<rect x="486" y="287.8" width="1" height="16.7" fill="#6a6a6a"/>
<rect x="484.9" y="301.6" width="2.5" height="2.6" fill="#0f5a14" stroke="#061f06" stroke-width="0.6"/>
<rect x="490" y="301.5" width="1" height="16.2" fill="#6a6a6a"/>
<rect x="489" y="301.9" width="2.5" height="12.6" fill="#f00000" stroke="#701010" stroke-width="0.6"/>
<rect x="494" y="302.5" width="1" height="16.2" fill="#6a6a6a"/>
<rect x="493.1" y="303" width="2.5" height="10.7" fill="#0f5a14" stroke="#061f06" stroke-width="0.6"/>
<rect x="498" y="301.9" width="1" height="18.1" fill="#6a6a6a"/>
<rect x="497.2" y="303.9" width="2.5" height="13.1" fill="#f00000" stroke="#701010" stroke-width="0.6"/>
<rect x="502" y="290" width="1" height="33.3" fill="#6a6a6a"/>
<rect x="501.2" y="296" width="2.5" height="21.7" fill="#0f5a14" stroke="#061f06" stroke-width="0.6"/>
<rect x="506" y="285.5" width="1" height="11.3" fill="#6a6a6a"/>
<rect x="505.3" y="286" width="2.5" height="7.6" fill="#0f5a14" stroke="#061f06" stroke-width="0.6"/>
<rect x="510" y="271.6" width="1" height="14.4" fill="#6a6a6a"/>
<rect x="509.4" y="272.9" width="2.5" height="12.1" fill="#0f5a14" stroke="#061f06" stroke-width="0.6"/>
<rect x="514" y="271.6" width="1" height="13.4" fill="#6a6a6a"/>
<rect x="513.4" y="274.9" width="2.5" height="2.5" fill="#f00000" stroke="#701010" stroke-width="0.6"/>
<rect x="518" y="274" width="1" height="11" fill="#6a6a6a"/>
<rect x="517.5" y="276" width="2.5" height="2" fill="#0f5a14" stroke="#061f06" stroke-width="0.6"/>
<rect x="522" y="273" width="1" height="10" fill="#6a6a6a"/>
<rect x="521.6" y="276" width="2.5" height="5" fill="#f00000" stroke="#701010" stroke-width="0.6"/>
<rect x="526" y="272" width="1" height="16.5" fill="#6a6a6a"/>
<rect x="525.7" y="272.4" width="2.5" height="9.3" fill="#0f5a14" stroke="#061f06" stroke-width="0.6"/>
<rect x="530" y="271" width="1" height="10" fill="#6a6a6a"/>
<rect x="529.7" y="271.6" width="2.5" height="1.4" fill="#0f5a14" stroke="#061f06" stroke-width="0.6"/>
<rect x="535" y="268" width="1" height="4" fill="#6a6a6a"/>
<rect x="533.8" y="269" width="2.5" height="2.6" fill="#0f5a14" stroke="#061f06" stroke-width="0.6"/>
<rect x="539" y="252.5" width="1" height="19.9" fill="#6a6a6a"/>
<rect x="537.9" y="252.7" width="2.5" height="16.3" fill="#0f5a14" stroke="#061f06" stroke-width="0.6"/>
<rect x="543" y="235" width="1" height="27" fill="#6a6a6a"/>
<rect x="542" y="235.3" width="2.5" height="17.7" fill="#0f5a14" stroke="#061f06" stroke-width="0.6"/>
<rect x="547" y="225.4" width="1" height="12.6" fill="#6a6a6a"/>
<rect x="546" y="227.4" width="2.5" height="5.6" fill="#0f5a14" stroke="#061f06" stroke-width="0.6"/>
<rect x="551" y="221.6" width="1" height="16.4" fill="#6a6a6a"/>
<rect x="550.1" y="227.5" width="2.5" height="1" fill="#0f5a14" stroke="#061f06" stroke-width="0.6"/>
<rect x="555" y="202.7" width="1" height="24.8" fill="#6a6a6a"/>
<rect x="554.2" y="207.8" width="2.5" height="19.6" fill="#0f5a14" stroke="#061f06" stroke-width="0.6"/>
<rect x="559" y="207.5" width="1" height="8.5" fill="#6a6a6a"/>
<rect x="558.2" y="207.8" width="2.5" height="8" fill="#f00000" stroke="#701010" stroke-width="0.6"/>
<rect x="563" y="206" width="1" height="16.9" fill="#6a6a6a"/>
<rect x="562.3" y="206.5" width="2.5" height="9.3" fill="#0f5a14" stroke="#061f06" stroke-width="0.6"/>
<rect x="567" y="202.7" width="1" height="8.3" fill="#6a6a6a"/>
<rect x="566.4" y="204.8" width="2.5" height="6" fill="#f00000" stroke="#701010" stroke-width="0.6"/>
<rect x="571" y="188.9" width="1" height="26.2" fill="#6a6a6a"/>
<rect x="570.5" y="194.1" width="2.5" height="17.4" fill="#0f5a14" stroke="#061f06" stroke-width="0.6"/>
<rect x="575" y="181.5" width="1" height="17" fill="#6a6a6a"/>
<rect x="574.5" y="193.9" width="2.5" height="4.2" fill="#f00000" stroke="#701010" stroke-width="0.6"/>
<rect x="579" y="187" width="1" height="12.4" fill="#6a6a6a"/>
<rect x="578.6" y="187.3" width="2.5" height="10.2" fill="#0f5a14" stroke="#061f06" stroke-width="0.6"/>
<rect x="583" y="185.2" width="1" height="18.8" fill="#6a6a6a"/>
<rect x="582.7" y="188" width="2.5" height="15.6" fill="#f00000" stroke="#701010" stroke-width="0.6"/>
<rect x="587" y="198.3" width="1" height="14.7" fill="#6a6a6a"/>
<rect x="586.7" y="202.3" width="2.5" height="9.2" fill="#f00000" stroke="#701010" stroke-width="0.6"/>
<rect x="592" y="203.6" width="1" height="23.8" fill="#6a6a6a"/>
<rect x="590.8" y="210.4" width="2.5" height="12.5" fill="#f00000" stroke="#701010" stroke-width="0.6"/>
<rect x="596" y="200.4" width="1" height="23.1" fill="#6a6a6a"/>
<rect x="594.9" y="215.2" width="2.5" height="7.8" fill="#0f5a14" stroke="#061f06" stroke-width="0.6"/>
<rect x="600" y="191" width="1" height="23.5" fill="#6a6a6a"/>
<rect x="599" y="196.7" width="2.5" height="17.3" fill="#0f5a14" stroke="#061f06" stroke-width="0.6"/>
<rect x="604" y="194.4" width="1" height="12.6" fill="#6a6a6a"/>
<rect x="603" y="196.4" width="2.5" height="6.3" fill="#f00000" stroke="#701010" stroke-width="0.6"/>
<rect x="608" y="197.8" width="1" height="10.2" fill="#6a6a6a"/>
<rect x="607.1" y="202.5" width="2.5" height="3.6" fill="#f00000" stroke="#701010" stroke-width="0.6"/>
<rect x="612" y="202.4" width="1" height="21.1" fill="#6a6a6a"/>
<rect x="611.2" y="205.6" width="2.5" height="17.4" fill="#f00000" stroke="#701010" stroke-width="0.6"/>
<rect x="616" y="219.3" width="1" height="12.6" fill="#6a6a6a"/>
<rect x="615.3" y="222" width="2.5" height="1" fill="#0f5a14" stroke="#061f06" stroke-width="0.6"/>
<rect x="620" y="212.5" width="1" height="19.4" fill="#6a6a6a"/>
<rect x="619.3" y="213" width="2.5" height="5.5" fill="#0f5a14" stroke="#061f06" stroke-width="0.6"/>
<rect x="624" y="202.2" width="1" height="15.8" fill="#6a6a6a"/>
<rect x="623.4" y="214" width="2.5" height="2.8" fill="#0f5a14" stroke="#061f06" stroke-width="0.6"/>
<rect x="628" y="205.7" width="1" height="22.8" fill="#6a6a6a"/>
<rect x="627.5" y="211.9" width="2.5" height="16.1" fill="#f00000" stroke="#701010" stroke-width="0.6"/>
<rect x="632" y="215.5" width="1" height="28.2" fill="#6a6a6a"/>
<rect x="631.5" y="226.8" width="2.5" height="12.6" fill="#f00000" stroke="#701010" stroke-width="0.6"/>
<rect x="636" y="208.8" width="1" height="29.7" fill="#6a6a6a"/>
<rect x="635.6" y="209" width="2.5" height="29.2" fill="#0f5a14" stroke="#061f06" stroke-width="0.6"/>
<rect x="640" y="195" width="1" height="13" fill="#6a6a6a"/>
<rect x="639.7" y="195.5" width="2.5" height="12" fill="#0f5a14" stroke="#061f06" stroke-width="0.6"/>
<rect x="645" y="185" width="1" height="14" fill="#6a6a6a"/>
<rect x="643.8" y="185.3" width="2.5" height="10" fill="#0f5a14" stroke="#061f06" stroke-width="0.6"/>
<rect x="649" y="173.2" width="1" height="12.3" fill="#6a6a6a"/>
<rect x="647.8" y="175.2" width="2.5" height="10.1" fill="#0f5a14" stroke="#061f06" stroke-width="0.6"/>
<rect x="653" y="174" width="1" height="8" fill="#6a6a6a"/>
<rect x="651.9" y="174.5" width="2.5" height="7" fill="#0f5a14" stroke="#061f06" stroke-width="0.6"/>
<rect x="657" y="176" width="1" height="5" fill="#6a6a6a"/>
<rect x="656" y="176.2" width="2.5" height="4.6" fill="#0f5a14" stroke="#061f06" stroke-width="0.6"/>
<rect x="661" y="159" width="1" height="18.5" fill="#6a6a6a"/>
<rect x="660.1" y="159.3" width="2.5" height="17.7" fill="#0f5a14" stroke="#061f06" stroke-width="0.6"/>
<rect x="665" y="148" width="1" height="10.5" fill="#6a6a6a"/>
<rect x="664.1" y="153" width="2.5" height="5" fill="#0f5a14" stroke="#061f06" stroke-width="0.6"/>
<rect x="669" y="148" width="1" height="10" fill="#6a6a6a"/>
<rect x="668.2" y="151.5" width="2.5" height="1" fill="#0f5a14" stroke="#061f06" stroke-width="0.6"/>
<rect x="673" y="150.5" width="1" height="23.5" fill="#6a6a6a"/>
<rect x="672.3" y="151" width="2.5" height="17.7" fill="#f00000" stroke="#701010" stroke-width="0.6"/>
<rect x="677" y="151.5" width="1" height="18" fill="#6a6a6a"/>
<rect x="676.3" y="151.8" width="2.5" height="17.6" fill="#0f5a14" stroke="#061f06" stroke-width="0.6"/>
<rect x="681" y="134.5" width="1" height="17.5" fill="#6a6a6a"/>
<rect x="680.4" y="135" width="2.5" height="16.8" fill="#0f5a14" stroke="#061f06" stroke-width="0.6"/>
<rect x="685" y="125" width="1" height="10" fill="#6a6a6a"/>
<rect x="684.5" y="132" width="2.5" height="1" fill="#0f5a14" stroke="#061f06" stroke-width="0.6"/>
<rect x="689" y="125.5" width="1" height="15.5" fill="#6a6a6a"/>
<rect x="688.6" y="125.8" width="2.5" height="8.4" fill="#0f5a14" stroke="#061f06" stroke-width="0.6"/>
<rect x="693" y="113" width="1" height="16" fill="#6a6a6a"/>
<rect x="692.6" y="113.4" width="2.5" height="11.4" fill="#0f5a14" stroke="#061f06" stroke-width="0.6"/>
<rect x="697" y="109" width="1" height="15.5" fill="#6a6a6a"/>
<rect x="696.7" y="114.8" width="2.5" height="7.5" fill="#f00000" stroke="#701010" stroke-width="0.6"/>
<rect x="702" y="115" width="1" height="18" fill="#6a6a6a"/>
<rect x="700.8" y="115.4" width="2.5" height="6.3" fill="#0f5a14" stroke="#061f06" stroke-width="0.6"/>
<rect x="706" y="101.5" width="1" height="14" fill="#6a6a6a"/>
<rect x="704.9" y="101.6" width="2.5" height="13.8" fill="#0f5a14" stroke="#061f06" stroke-width="0.6"/>
<rect x="710" y="97.8" width="1" height="12.7" fill="#6a6a6a"/>
<rect x="708.9" y="101.6" width="2.5" height="8.8" fill="#f00000" stroke="#701010" stroke-width="0.6"/>
<rect x="714" y="111.5" width="1" height="7.5" fill="#6a6a6a"/>
<rect x="713" y="111.6" width="2.5" height="5.1" fill="#f00000" stroke="#701010" stroke-width="0.6"/>
<rect x="718" y="95.3" width="1" height="21.7" fill="#6a6a6a"/>
<rect x="717.1" y="97.8" width="2.5" height="18.9" fill="#0f5a14" stroke="#061f06" stroke-width="0.6"/>
<rect x="722" y="95.8" width="1" height="8.7" fill="#6a6a6a"/>
<rect x="721.1" y="99.8" width="2.5" height="4.2" fill="#f00000" stroke="#701010" stroke-width="0.6"/>
<rect x="726" y="98.3" width="1" height="12.1" fill="#6a6a6a"/>
<rect x="725.2" y="99.8" width="2.5" height="7.6" fill="#f00000" stroke="#701010" stroke-width="0.6"/>
<rect x="730" y="103.3" width="1" height="10.7" fill="#6a6a6a"/>
<rect x="729.3" y="107.4" width="2.5" height="4.2" fill="#f00000" stroke="#701010" stroke-width="0.6"/>
<rect x="734" y="105.3" width="1" height="39.7" fill="#6a6a6a"/>
<rect x="733.4" y="111.6" width="2.5" height="32.8" fill="#f00000" stroke="#701010" stroke-width="0.6"/>
<rect x="738" y="121.5" width="1" height="24" fill="#6a6a6a"/>
<rect x="737.4" y="121.7" width="2.5" height="23.4" fill="#0f5a14" stroke="#061f06" stroke-width="0.6"/>
<rect x="742" y="114.5" width="1" height="7.5" fill="#6a6a6a"/>
<rect x="741.5" y="114.9" width="2.5" height="6.8" fill="#0f5a14" stroke="#061f06" stroke-width="0.6"/>
<rect x="746" y="103.8" width="1" height="11.7" fill="#6a6a6a"/>
<rect x="745.6" y="106.8" width="2.5" height="8.4" fill="#0f5a14" stroke="#061f06" stroke-width="0.6"/>
<rect x="750" y="89" width="1" height="18" fill="#6a6a6a"/>
<rect x="749.6" y="93.8" width="2.5" height="13" fill="#0f5a14" stroke="#061f06" stroke-width="0.6"/>
<rect x="754" y="80" width="1" height="15.6" fill="#6a6a6a"/>
<rect x="753.7" y="85" width="2.5" height="8" fill="#0f5a14" stroke="#061f06" stroke-width="0.6"/>
<rect x="759" y="78.3" width="1" height="25.7" fill="#6a6a6a"/>
<rect x="757.8" y="84.3" width="2.5" height="10.5" fill="#f00000" stroke="#701010" stroke-width="0.6"/>
<rect x="763" y="74.8" width="1" height="23.4" fill="#6a6a6a"/>
<rect x="761.9" y="77.8" width="2.5" height="17.8" fill="#0f5a14" stroke="#061f06" stroke-width="0.6"/>
<rect x="767" y="56.5" width="1" height="22" fill="#6a6a6a"/>
<rect x="765.9" y="56.6" width="2.5" height="21.4" fill="#0f5a14" stroke="#061f06" stroke-width="0.6"/>
<rect x="771" y="41.6" width="1" height="15.4" fill="#6a6a6a"/>
<rect x="770" y="54.2" width="2.5" height="2.6" fill="#0f5a14" stroke="#061f06" stroke-width="0.6"/>
<rect x="775" y="46" width="1" height="15" fill="#6a6a6a"/>
<rect x="774.1" y="51.8" width="2.5" height="1.7" fill="#0f5a14" stroke="#061f06" stroke-width="0.6"/>
<rect x="779" y="32.5" width="1" height="22.5" fill="#6a6a6a"/>
<rect x="778.2" y="32.6" width="2.5" height="22" fill="#0f5a14" stroke="#061f06" stroke-width="0.6"/>
<rect x="783" y="19.6" width="1" height="15.6" fill="#6a6a6a"/>
<rect x="782.2" y="32.2" width="2.5" height="1.8" fill="#f00000" stroke="#701010" stroke-width="0.6"/>
<rect x="787" y="31.4" width="1" height="30.6" fill="#6a6a6a"/>
<rect x="786.3" y="34" width="2.5" height="27.6" fill="#f00000" stroke="#701010" stroke-width="0.6"/>
<rect x="791" y="52" width="1" height="34.8" fill="#6a6a6a"/>
<rect x="790.4" y="52.3" width="2.5" height="25.7" fill="#f00000" stroke="#701010" stroke-width="0.6"/>
<rect x="795" y="60.4" width="1" height="39.1" fill="#6a6a6a"/>
<rect x="794.4" y="77.5" width="2.5" height="21.9" fill="#f00000" stroke="#701010" stroke-width="0.6"/>
<rect x="799" y="97.2" width="1" height="40.3" fill="#6a6a6a"/>
<rect x="798.5" y="105.6" width="2.5" height="10.2" fill="#f00000" stroke="#701010" stroke-width="0.6"/>
<line x1="576" y1="185.2" x2="644.5" y2="208.2" stroke="#000" stroke-width="1.15"/>
<line x1="633.9" y1="240.3" x2="673.5" y2="150.5" stroke="#000" stroke-width="1.15"/>
<line x1="633.9" y1="240.3" x2="722" y2="95.6" stroke="#000" stroke-width="1.15"/>
<line x1="689.2" y1="139.5" x2="730.2" y2="103.4" stroke="#000" stroke-width="1.15"/>
<line x1="697.9" y1="110" x2="738.7" y2="72.6" stroke="#000" stroke-width="1.15"/>
<line x1="735.2" y1="144.1" x2="759.5" y2="101.5" stroke="#000" stroke-width="1.15"/>
<line x1="738.4" y1="145.4" x2="815.5" y2="10.1" stroke="#000" stroke-width="1.15"/>
</g>
<g clip-path="url(#sub)">
<line x1="2" y1="402.7" x2="949" y2="402.7" stroke="#b0b0b0" stroke-width="1" stroke-dasharray="1.2,2.3"/>
<line x1="2" y1="420.5" x2="949" y2="420.5" stroke="#b0b0b0" stroke-width="1" stroke-dasharray="1.2,2.3"/>
<line x1="2" y1="438.3" x2="949" y2="438.3" stroke="#b0b0b0" stroke-width="1" stroke-dasharray="1.2,2.3"/>
<polyline fill="none" stroke="#555" stroke-width="1.1" stroke-linejoin="round"  points="1.3,408 5.1,409.7 9,410.3 12.8,408 17.9,405.9 21.9,410.9 26,406.9 30.1,407.2 34.1,406.1 38.2,403.7 42.3,409.5 46.4,403.8 50.4,410.6 54.5,405.4 58.6,404 62.6,407.4 66.7,415.7 70.8,419.1 74.9,416.4 78.9,417.5 83,416.7 87.1,412.1 91.2,407.8 95.2,406.3 99.3,407.7 103.4,409.7 107.4,411.2 111.5,415.9 115.6,416 119.7,412.2 123.7,411.6 127.8,409.4 131.9,408.2 136,405 140,402.3 144.1,401.4 148.2,404.9 152.2,401.1 156.3,404 160.4,402.7 164.5,402.6 168.5,402.6 172.6,399.8 176.7,397.9 180.8,402.7 184.8,406.1 188.9,405.6 193,416.6 197,416.1 201.1,411.6 205.2,409.5 209.3,403.9 213.3,400.1 217.4,402.9 221.5,400 225.5,406.5 229.6,414.3 233.7,408.6 237.8,414.7 241.8,411 245.9,410.3 250,419.3 254.1,419 258.1,429 262.2,428.3 266.3,426.8 270.3,430 274.4,431.7 278.5,429.6 282.6,432.4 286.6,435.8 290.7,423.8 294.8,421.2 298.9,420.4 302.9,424.5 307,427.7 311.1,431.6 315.1,434.3 319.2,435.4 323.3,437.2 327.4,439.7 331.4,430.4 335.5,431.5 339.6,435 343.6,438 347.7,430.2 351.8,433 355.9,428.2 359.9,429 364,425.5 368.1,421.3 372.2,419.7 376.2,417 380.3,419.7 384.4,424.5 388.4,427.4 392.5,423.5 396.6,427.9 400.7,431 404.7,432.8 408.8,432.4 412.9,434.1 417,428.3 421,426.1 425.1,431 429.2,422.9 433.2,423.8 437.3,423.1 441.4,421.5 445.5,424.6 449.5,427 453.6,428.5 457.7,428.5 461.8,427.5 465.8,422.7 469.9,421.7 474,416.7 478,413.9 482.1,416.4 486.2,416 490.3,420.1 494.3,416.8 498.4,421.1 502.5,415.5 506.5,413.1 510.6,410.2 514.7,411.8 518.8,411.4 522.8,413.3 526.9,411 531,410.8 535.1,410.1 539.1,406 543.2,402.3 547.3,400.8 551.3,400.9 555.4,397.4 559.5,401.3 563.6,399.6 567.6,401.7 571.7,398.7 575.8,400.7 579.9,398.7 583.9,406.3 588,409.6 592.1,414.1 596.1,412 600.2,407.5 604.3,409.9 608.4,411.3 612.4,417.6 616.5,417.3 620.6,414.5 624.7,414.9 628.7,420.3 632.8,424.2 636.9,414.6 640.9,411.3 645,409 649.1,406.8 653.2,406.6 657.2,407.4 661.3,403.7 665.4,402.4 669.4,402.1 673.5,409.9 677.6,406 681.7,402.7 685.7,402.1 689.8,401 693.9,398.8 698,403 702,401.6 706.1,399.1 710.2,403.3 714.2,406.1 718.3,402.2 722.4,405 726.5,406.5 730.5,408.4 734.6,420.5 738.7,414.4 742.8,412.8 746.8,410.9 750.9,408 755,406.2 759,409.9 763.1,406.3 767.2,402.6 771.3,402.2 775.3,401.8 779.4,398.7 783.5,399.3 787.6,410.2 791.6,415.4 795.7,421.3 799.8,425.2"/>
</g>
<rect x="1" y="1" width="948.5" height="1" fill="#9a9a9a"/>
<rect x="0.7" y="1" width="1" height="465" fill="#8a8a8a"/>
<rect x="949" y="1" width="1" height="465" fill="#8a8a8a"/>
<rect x="1" y="465" width="949" height="1" fill="#707070"/>
<rect x="1" y="374" width="949" height="1.8" fill="#6a6a6a"/>
<path d="M3.5,4.2 L7.2,4.2 L5.35,6.3 Z" fill="#000"/>
<text x="9" y="7.4" font-family="Liberation Sans" font-size="5.6" fill="#111" stroke="#111" stroke-width="0.12" textLength="42" lengthAdjust="spacingAndGlyphs">US100Cash,Weekly</text>
<text x="55.3" y="7.4" font-family="Liberation Sans" font-size="5.6" fill="#111" stroke="#111" stroke-width="0.12" textLength="81" lengthAdjust="spacingAndGlyphs">18205.90 18457.60 17251.52 17900.10</text>
<text x="3.6" y="382.3" font-family="Liberation Sans" font-size="5.6" fill="#111" stroke="#111" stroke-width="0.12" textLength="35" lengthAdjust="spacingAndGlyphs">RSI(14) 44.8369</text>
<rect x="949" y="3.3" width="2" height="1" fill="#333"/>
<text x="952.2" y="5.7" font-family="Liberation Sans" font-size="5.6" fill="#000" stroke="#000" stroke-width="0.2" textLength="19" lengthAdjust="spacingAndGlyphs">21253.65</text>
<rect x="949" y="19.7" width="2" height="1" fill="#333"/>
<text x="952.2" y="22.1" font-family="Liberation Sans" font-size="5.6" fill="#000" stroke="#000" stroke-width="0.2" textLength="19" lengthAdjust="spacingAndGlyphs">20753.70</text>
<rect x="949" y="53.7" width="2" height="1" fill="#333"/>
<text x="952.2" y="56.1" font-family="Liberation Sans" font-size="5.6" fill="#000" stroke="#000" stroke-width="0.2" textLength="19" lengthAdjust="spacingAndGlyphs">19753.80</text>
<rect x="949" y="70.4" width="2" height="1" fill="#333"/>
<text x="952.2" y="72.8" font-family="Liberation Sans" font-size="5.6" fill="#000" stroke="#000" stroke-width="0.2" textLength="19" lengthAdjust="spacingAndGlyphs">19253.85</text>
<rect x="949" y="87.9" width="2" height="1" fill="#333"/>
<text x="952.2" y="90.3" font-family="Liberation Sans" font-size="5.6" fill="#000" stroke="#000" stroke-width="0.2" textLength="19" lengthAdjust="spacingAndGlyphs">18738.75</text>
<rect x="949" y="103.9" width="2" height="1" fill="#333"/>
<text x="952.2" y="106.3" font-family="Liberation Sans" font-size="5.6" fill="#000" stroke="#000" stroke-width="0.2" textLength="19" lengthAdjust="spacingAndGlyphs">18238.80</text>
<rect x="949" y="120.9" width="2" height="1" fill="#333"/>
<text x="952.2" y="123.3" font-family="Liberation Sans" font-size="5.6" fill="#000" stroke="#000" stroke-width="0.2" textLength="19" lengthAdjust="spacingAndGlyphs">17738.85</text>
<rect x="949" y="137.9" width="2" height="1" fill="#333"/>
<text x="952.2" y="140.3" font-family="Liberation Sans" font-size="5.6" fill="#000" stroke="#000" stroke-width="0.2" textLength="19" lengthAdjust="spacingAndGlyphs">17238.90</text>
<rect x="949" y="154.3" width="2" height="1" fill="#333"/>
<text x="952.2" y="156.7" font-family="Liberation Sans" font-size="5.6" fill="#000" stroke="#000" stroke-width="0.2" textLength="19" lengthAdjust="spacingAndGlyphs">16738.95</text>
<rect x="949" y="171" width="2" height="1" fill="#333"/>
<text x="952.2" y="173.4" font-family="Liberation Sans" font-size="5.6" fill="#000" stroke="#000" stroke-width="0.2" textLength="19" lengthAdjust="spacingAndGlyphs">16239.00</text>
<rect x="949" y="187.7" width="2" height="1" fill="#333"/>
<text x="952.2" y="190.1" font-family="Liberation Sans" font-size="5.6" fill="#000" stroke="#000" stroke-width="0.2" textLength="19" lengthAdjust="spacingAndGlyphs">15739.05</text>
<rect x="949" y="204.5" width="2" height="1" fill="#333"/>
<text x="952.2" y="206.9" font-family="Liberation Sans" font-size="5.6" fill="#000" stroke="#000" stroke-width="0.2" textLength="19" lengthAdjust="spacingAndGlyphs">15239.10</text>
<rect x="949" y="221.1" width="2" height="1" fill="#333"/>
<text x="952.2" y="223.5" font-family="Liberation Sans" font-size="5.6" fill="#000" stroke="#000" stroke-width="0.2" textLength="19" lengthAdjust="spacingAndGlyphs">14739.15</text>
<rect x="949" y="238.3" width="2" height="1" fill="#333"/>
<text x="952.2" y="240.7" font-family="Liberation Sans" font-size="5.6" fill="#000" stroke="#000" stroke-width="0.2" textLength="19" lengthAdjust="spacingAndGlyphs">14224.05</text>
<rect x="949" y="254.7" width="2" height="1" fill="#333"/>
<text x="952.2" y="257.1" font-family="Liberation Sans" font-size="5.6" fill="#000" stroke="#000" stroke-width="0.2" textLength="19" lengthAdjust="spacingAndGlyphs">13724.10</text>
<rect x="949" y="271.5" width="2" height="1" fill="#333"/>
<text x="952.2" y="273.9" font-family="Liberation Sans" font-size="5.6" fill="#000" stroke="#000" stroke-width="0.2" textLength="19" lengthAdjust="spacingAndGlyphs">13224.15</text>
<rect x="949" y="288.5" width="2" height="1" fill="#333"/>
<text x="952.2" y="290.9" font-family="Liberation Sans" font-size="5.6" fill="#000" stroke="#000" stroke-width="0.2" textLength="19" lengthAdjust="spacingAndGlyphs">12724.20</text>
<rect x="949" y="305.5" width="2" height="1" fill="#333"/>
<text x="952.2" y="307.9" font-family="Liberation Sans" font-size="5.6" fill="#000" stroke="#000" stroke-width="0.2" textLength="19" lengthAdjust="spacingAndGlyphs">12224.25</text>
<rect x="949" y="322.2" width="2" height="1" fill="#333"/>
<text x="952.2" y="324.6" font-family="Liberation Sans" font-size="5.6" fill="#000" stroke="#000" stroke-width="0.2" textLength="19" lengthAdjust="spacingAndGlyphs">11724.30</text>
<rect x="949" y="338.9" width="2" height="1" fill="#333"/>
<text x="952.2" y="341.3" font-family="Liberation Sans" font-size="5.6" fill="#000" stroke="#000" stroke-width="0.2" textLength="19" lengthAdjust="spacingAndGlyphs">11224.35</text>
<rect x="949" y="356" width="2" height="1" fill="#333"/>
<text x="952.2" y="358.4" font-family="Liberation Sans" font-size="5.6" fill="#000" stroke="#000" stroke-width="0.2" textLength="19" lengthAdjust="spacingAndGlyphs">10724.40</text>
<rect x="949" y="372.2" width="2" height="1" fill="#333"/>
<text x="952.2" y="374.6" font-family="Liberation Sans" font-size="5.6" fill="#000" stroke="#000" stroke-width="0.2" textLength="19" lengthAdjust="spacingAndGlyphs">10224.45</text>
<text x="952.2" y="381.1" font-family="Liberation Sans" font-size="5.6" fill="#000">100</text>
<text x="952.2" y="404.7" font-family="Liberation Sans" font-size="5.6" fill="#000">70</text>
<text x="952.2" y="422.9" font-family="Liberation Sans" font-size="5.6" fill="#000">50</text>
<text x="952.2" y="440.6" font-family="Liberation Sans" font-size="5.6" fill="#000">30</text>
<text x="952.2" y="463.6" font-family="Liberation Sans" font-size="5.6" fill="#000">0</text>
<rect x="950.2" y="35.7" width="23.5" height="5.4" rx="1" fill="#ff1a1a"/>
<text x="951.8" y="40.2" font-family="Liberation Sans" font-size="5.2" fill="#fff" textLength="20.5" lengthAdjust="spacingAndGlyphs">20200.00</text>
<rect x="950.2" y="58.8" width="23.5" height="5.4" rx="1" fill="#ff1a1a"/>
<text x="951.8" y="63.3" font-family="Liberation Sans" font-size="5.2" fill="#fff" textLength="20.5" lengthAdjust="spacingAndGlyphs">19500.00</text>
<rect x="950.2" y="81.4" width="23.5" height="5.4" rx="1" fill="#ff1a1a"/>
<text x="951.8" y="85.9" font-family="Liberation Sans" font-size="5.2" fill="#fff" textLength="20.5" lengthAdjust="spacingAndGlyphs">18830.00</text>
<rect x="950.2" y="113.3" width="23.5" height="5.4" rx="1" fill="#0a6a0a"/>
<text x="951.8" y="117.8" font-family="Liberation Sans" font-size="5.2" fill="#fff" textLength="20.5" lengthAdjust="spacingAndGlyphs">17900.00</text>
<rect x="950.2" y="143.1" width="23.5" height="5.4" rx="1" fill="#0a6a0a"/>
<text x="951.8" y="147.6" font-family="Liberation Sans" font-size="5.2" fill="#fff" textLength="20.5" lengthAdjust="spacingAndGlyphs">17000.00</text>
<rect x="950.2" y="175.9" width="23.5" height="5.4" rx="1" fill="#0a6a0a"/>
<text x="951.8" y="180.4" font-family="Liberation Sans" font-size="5.2" fill="#fff" textLength="20.5" lengthAdjust="spacingAndGlyphs">16000.00</text>
<rect x="1.1" y="465" width="1" height="2.5" fill="#333"/>
<text x="1.3" y="472.2" font-family="Liberation Sans" font-size="5.8" fill="#111" stroke="#111" stroke-width="0.12" textLength="23.3" lengthAdjust="spacingAndGlyphs">1 Nov 2020</text>
<rect x="33.6" y="465" width="1" height="2.5" fill="#333"/>
<text x="33.8" y="472.2" font-family="Liberation Sans" font-size="5.8" fill="#111" stroke="#111" stroke-width="0.12" textLength="25.8" lengthAdjust="spacingAndGlyphs">27 Dec 2020</text>
<rect x="66.2" y="465" width="1" height="2.5" fill="#333"/>
<text x="66.4" y="472.2" font-family="Liberation Sans" font-size="5.8" fill="#111" stroke="#111" stroke-width="0.12" textLength="25.5" lengthAdjust="spacingAndGlyphs">21 Feb 2021</text>
<rect x="98.8" y="465" width="1" height="2.5" fill="#333"/>
<text x="99" y="472.2" font-family="Liberation Sans" font-size="5.8" fill="#111" stroke="#111" stroke-width="0.12" textLength="24.5" lengthAdjust="spacingAndGlyphs">18 Apr 2021</text>
<rect x="131.4" y="465" width="1" height="2.5" fill="#333"/>
<text x="131.6" y="472.2" font-family="Liberation Sans" font-size="5.8" fill="#111" stroke="#111" stroke-width="0.12" textLength="25" lengthAdjust="spacingAndGlyphs">13 Jun 2021</text>
<rect x="164" y="465" width="1" height="2.5" fill="#333"/>
<text x="164.2" y="472.2" font-family="Liberation Sans" font-size="5.8" fill="#111" stroke="#111" stroke-width="0.12" textLength="23" lengthAdjust="spacingAndGlyphs">8 Aug 2021</text>
<rect x="196.5" y="465" width="1" height="2.5" fill="#333"/>
<text x="196.7" y="472.2" font-family="Liberation Sans" font-size="5.8" fill="#111" stroke="#111" stroke-width="0.12" textLength="22.3" lengthAdjust="spacingAndGlyphs">3 Oct 2021</text>
<rect x="229.1" y="465" width="1" height="2.5" fill="#333"/>
<text x="229.3" y="472.2" font-family="Liberation Sans" font-size="5.8" fill="#111" stroke="#111" stroke-width="0.12" textLength="25.8" lengthAdjust="spacingAndGlyphs">28 Nov 2021</text>
<rect x="261.7" y="465" width="1" height="2.5" fill="#333"/>
<text x="261.9" y="472.2" font-family="Liberation Sans" font-size="5.8" fill="#111" stroke="#111" stroke-width="0.12" textLength="25" lengthAdjust="spacingAndGlyphs">23 Jan 2022</text>
<rect x="294.3" y="465" width="1" height="2.5" fill="#333"/>
<text x="294.5" y="472.2" font-family="Liberation Sans" font-size="5.8" fill="#111" stroke="#111" stroke-width="0.12" textLength="25.5" lengthAdjust="spacingAndGlyphs">20 Mar 2022</text>
<rect x="326.9" y="465" width="1" height="2.5" fill="#333"/>
<text x="327.1" y="472.2" font-family="Liberation Sans" font-size="5.8" fill="#111" stroke="#111" stroke-width="0.12" textLength="26.3" lengthAdjust="spacingAndGlyphs">15 May 2022</text>
<rect x="359.4" y="465" width="1" height="2.5" fill="#333"/>
<text x="359.6" y="472.2" font-family="Liberation Sans" font-size="5.8" fill="#111" stroke="#111" stroke-width="0.12" textLength="23.5" lengthAdjust="spacingAndGlyphs">10 Jul 2022</text>
<rect x="392" y="465" width="1" height="2.5" fill="#333"/>
<text x="392.2" y="472.2" font-family="Liberation Sans" font-size="5.8" fill="#111" stroke="#111" stroke-width="0.12" textLength="23.3" lengthAdjust="spacingAndGlyphs">4 Sep 2022</text>
<rect x="424.6" y="465" width="1" height="2.5" fill="#333"/>
<text x="424.8" y="472.2" font-family="Liberation Sans" font-size="5.8" fill="#111" stroke="#111" stroke-width="0.12" textLength="24.8" lengthAdjust="spacingAndGlyphs">30 Oct 2022</text>
<rect x="457.2" y="465" width="1" height="2.5" fill="#333"/>
<text x="457.4" y="472.2" font-family="Liberation Sans" font-size="5.8" fill="#111" stroke="#111" stroke-width="0.12" textLength="25.8" lengthAdjust="spacingAndGlyphs">25 Dec 2022</text>
<rect x="489.8" y="465" width="1" height="2.5" fill="#333"/>
<text x="490" y="472.2" font-family="Liberation Sans" font-size="5.8" fill="#111" stroke="#111" stroke-width="0.12" textLength="25.5" lengthAdjust="spacingAndGlyphs">19 Feb 2023</text>
<rect x="522.3" y="465" width="1" height="2.5" fill="#333"/>
<text x="522.5" y="472.2" font-family="Liberation Sans" font-size="5.8" fill="#111" stroke="#111" stroke-width="0.12" textLength="24.5" lengthAdjust="spacingAndGlyphs">16 Apr 2023</text>
<rect x="554.9" y="465" width="1" height="2.5" fill="#333"/>
<text x="555.1" y="472.2" font-family="Liberation Sans" font-size="5.8" fill="#111" stroke="#111" stroke-width="0.12" textLength="24.7" lengthAdjust="spacingAndGlyphs">11 Jun 2023</text>
<rect x="587.5" y="465" width="1" height="2.5" fill="#333"/>
<text x="587.7" y="472.2" font-family="Liberation Sans" font-size="5.8" fill="#111" stroke="#111" stroke-width="0.12" textLength="23" lengthAdjust="spacingAndGlyphs">6 Aug 2023</text>
<rect x="620.1" y="465" width="1" height="2.5" fill="#333"/>
<text x="620.3" y="472.2" font-family="Liberation Sans" font-size="5.8" fill="#111" stroke="#111" stroke-width="0.12" textLength="22.3" lengthAdjust="spacingAndGlyphs">1 Oct 2023</text>
<rect x="652.7" y="465" width="1" height="2.5" fill="#333"/>
<text x="652.9" y="472.2" font-family="Liberation Sans" font-size="5.8" fill="#111" stroke="#111" stroke-width="0.12" textLength="25.8" lengthAdjust="spacingAndGlyphs">26 Nov 2023</text>
<rect x="685.2" y="465" width="1" height="2.5" fill="#333"/>
<text x="685.4" y="472.2" font-family="Liberation Sans" font-size="5.8" fill="#111" stroke="#111" stroke-width="0.12" textLength="25" lengthAdjust="spacingAndGlyphs">21 Jan 2024</text>
<rect x="717.8" y="465" width="1" height="2.5" fill="#333"/>
<text x="718" y="472.2" font-family="Liberation Sans" font-size="5.8" fill="#111" stroke="#111" stroke-width="0.12" textLength="25.5" lengthAdjust="spacingAndGlyphs">17 Mar 2024</text>
<rect x="750.4" y="465" width="1" height="2.5" fill="#333"/>
<text x="750.6" y="472.2" font-family="Liberation Sans" font-size="5.8" fill="#111" stroke="#111" stroke-width="0.12" textLength="26.3" lengthAdjust="spacingAndGlyphs">12 May 2024</text>
<rect x="783" y="465" width="1" height="2.5" fill="#333"/>
<text x="783.2" y="472.2" font-family="Liberation Sans" font-size="5.8" fill="#111" stroke="#111" stroke-width="0.12" textLength="21" lengthAdjust="spacingAndGlyphs">7 Jul 2024</text>
</svg></body></html>
